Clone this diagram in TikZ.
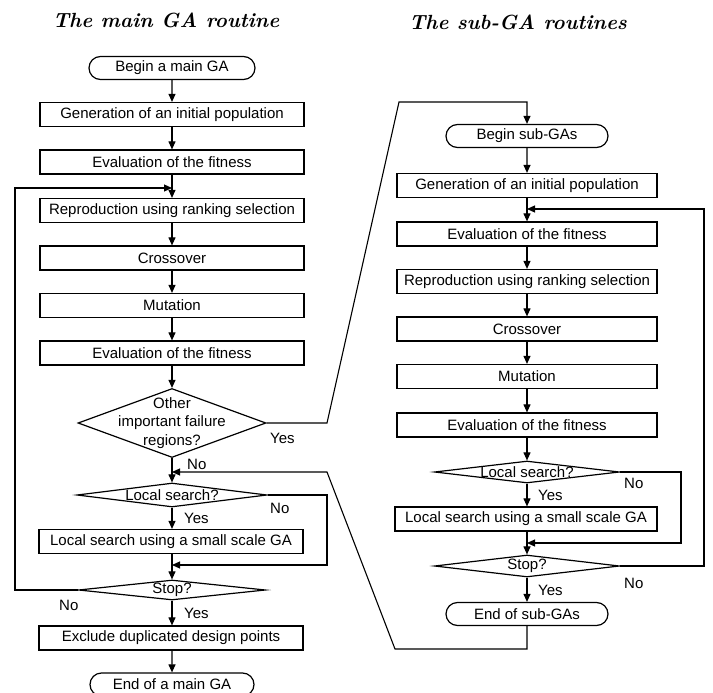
\documentclass[tikz,border=0pt]{standalone}
\usepackage{fontspec}
\usetikzlibrary{shapes.geometric,shapes.misc,arrows.meta}
\newfontfamily\boxfont{Liberation Sans}
\begin{document}
\begin{tikzpicture}[x=1pt,y=-1pt,
  every node/.style={font=\boxfont\fontsize{15}{18.5}\selectfont},
  ttl/.style={font=\bfseries\itshape\fontsize{20.5}{24}\selectfont},
  box/.style={draw, rectangle, line width=1.2pt, minimum height=24pt, inner sep=0pt},
  term/.style={draw, rounded rectangle, line width=1.2pt, minimum height=23pt, inner sep=0pt},
  dia/.style={draw, diamond, line width=1.2pt, inner sep=0pt},
  lbl/.style={inner sep=0pt},
  flow/.style={line width=1.1pt, -{Triangle[length=8pt,width=7pt]}}
]
\useasboundingbox (0,0) rectangle (713,693);

% titles
\node[ttl] (titleM) at (166,20) {The main GA routine};
\node[ttl] (titleS) at (518,22) {The sub-GA routines};

% ---- main GA routine ----
\node[term, minimum width=166pt] (beginM) at (172,68) {Begin a main GA};
\node[box, minimum width=264pt] (genM)   at (172,114.5) {Generation of an initial population};
\node[box, minimum width=264pt] (evalM1) at (172,162) {Evaluation of the fitness};
\node[box, minimum width=264pt] (reprM)  at (172,210.5) {Reproduction using ranking selection};
\node[box, minimum width=264pt] (crossM) at (172,258) {Crossover};
\node[box, minimum width=264pt] (mutM)   at (172,305.5) {Mutation};
\node[box, minimum width=264pt] (evalM2) at (172,353) {Evaluation of the fitness};
\node[dia, minimum width=188pt, minimum height=69pt] (otherM) at (172,423) {};
\node[align=center, inner sep=0pt] (otherMt) at (otherM) {Other\\important failure\\regions?};
\node[dia, minimum width=190pt, minimum height=24pt] (lsqM) at (172,495) {};
\node[inner sep=0pt] (lsqMt) at (lsqM) {Local search?};
\node[box, minimum width=264pt] (lsM)   at (171,541.5) {Local search using a small scale GA};
\node[dia, minimum width=187pt, minimum height=20pt] (stopM) at (172,590) {};
\node[inner sep=0pt] (stopMt) at (stopM) {Stop?};
\node[box, minimum width=264pt] (exclM) at (171,638) {Exclude duplicated design points};
\node[term, minimum width=164pt] (endM) at (172,684.5) {End of a main GA};

% ---- sub-GA routines ----
\node[term, minimum width=162pt] (beginS) at (527,136) {Begin sub-GAs};
\node[box, minimum width=260pt] (genS)   at (527,185.5) {Generation of an initial population};
\node[box, minimum width=260pt] (evalS1) at (527,234) {Evaluation of the fitness};
\node[box, minimum width=260pt] (reprS)  at (527,281.5) {Reproduction using ranking selection};
\node[box, minimum width=260pt] (crossS) at (527,329) {Crossover};
\node[box, minimum width=260pt] (mutS)   at (527,376.5) {Mutation};
\node[box, minimum width=260pt] (evalS2) at (527,425) {Evaluation of the fitness};
\node[dia, minimum width=185pt, minimum height=22pt] (lsqS) at (527,472) {};
\node[inner sep=0pt] (lsqSt) at (lsqS) {Local search?};
\node[box, minimum width=262pt] (lsS)   at (526,519) {Local search using a small scale GA};
\node[dia, minimum width=185pt, minimum height=22pt] (stopS) at (527,566) {};
\node[inner sep=0pt] (stopSt) at (stopS) {Stop?};
\node[term, minimum width=162pt] (endS) at (527,614) {End of sub-GAs};

% branch labels
\node[lbl, anchor=west] (yesOther) at (270,438) {Yes};
\node[lbl, anchor=west] (noOther)  at (187,464) {No};
\node[lbl, anchor=west] (noLsqM)   at (270,508) {No};
\node[lbl, anchor=west] (yesLsqM)  at (184,518) {Yes};
\node[lbl, anchor=west] (noStopM)  at (59,605) {No};
\node[lbl, anchor=west] (yesStopM) at (184,613) {Yes};
\node[lbl, anchor=west] (noLsqS)   at (624,483) {No};
\node[lbl, anchor=west] (yesLsqS)  at (538,495) {Yes};
\node[lbl, anchor=west] (noStopS)  at (624,583) {No};
\node[lbl, anchor=west] (yesStopS) at (538,590) {Yes};

% junctions and bends
\coordinate (jM1) at (172,188);
\coordinate (jM2) at (172,472);
\coordinate (jM3) at (172,565);
\coordinate (loopM) at (15,188);
\coordinate (bendM) at (327,565);
\coordinate (yesA) at (327,423);
\coordinate (yesB) at (399,102);
\coordinate (retA) at (395,649);
\coordinate (retB) at (327,472);
\coordinate (jS1) at (527,209);
\coordinate (jS2) at (527,543);
\coordinate (loopS) at (704,209);
\coordinate (bendS) at (681,543);

% main flow
\draw[flow] (beginM) -- (genM);
\draw[flow] (genM) -- (evalM1);
\draw[flow] (evalM1) -- (reprM);
\draw[flow] (reprM) -- (crossM);
\draw[flow] (crossM) -- (mutM);
\draw[flow] (mutM) -- (evalM2);
\draw[flow] (evalM2) -- (otherM);
\draw[flow] (otherM) -- (lsqM);
\draw[flow] (lsqM) -- (lsqM |- lsM.north);
\draw[flow] (lsqM |- lsM.south) -- (stopM);
\draw[flow] (stopM) -- (stopM |- exclM.north);
\draw[flow] (stopM |- exclM.south) -- (endM);
\draw[flow] (stopM.west) -| (loopM) -- (jM1);
\draw[flow] (lsqM.east) -| (bendM) -- (jM3);
\draw[flow] (otherM.east) -- (yesA) -- (yesB) -| (beginS.north);

% sub-GA flow
\draw[flow] (beginS) -- (genS);
\draw[flow] (genS) -- (evalS1);
\draw[flow] (evalS1) -- (reprS);
\draw[flow] (reprS) -- (crossS);
\draw[flow] (crossS) -- (mutS);
\draw[flow] (mutS) -- (evalS2);
\draw[flow] (evalS2) -- (lsqS);
\draw[flow] (lsqS) -- (lsqS |- lsS.north);
\draw[flow] (lsqS |- lsS.south) -- (stopS);
\draw[flow] (stopS) -- (endS);
\draw[flow] (lsqS.east) -| (bendS) -- (jS2);
\draw[flow] (stopS.east) -| (loopS) -- (jS1);
\draw[flow] (endS.south) |- (retA) -- (retB) -- (jM2);
\end{tikzpicture}
\end{document}
